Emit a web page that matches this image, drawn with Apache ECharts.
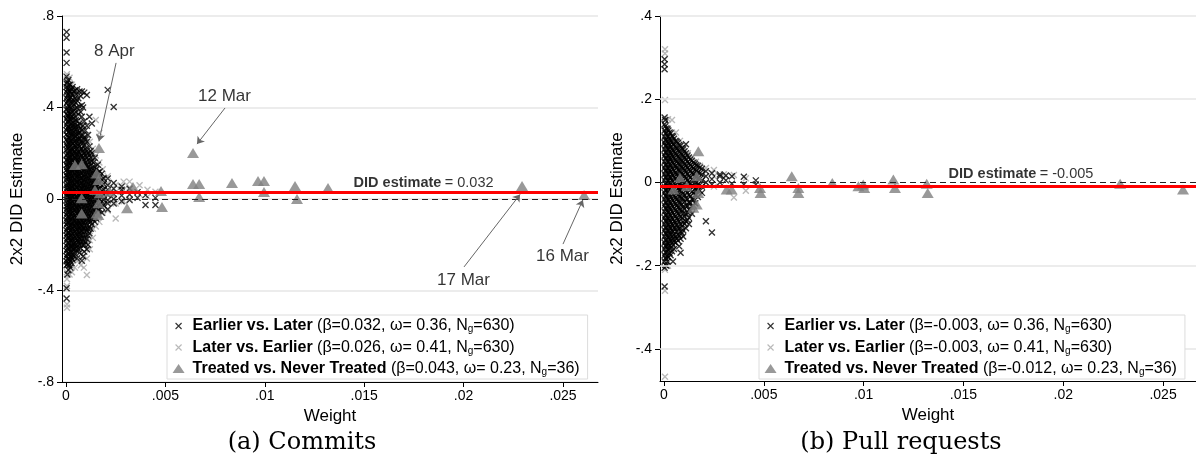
<!DOCTYPE html>
<html>
<head>
<meta charset="utf-8">
<script src="https://cdn.jsdelivr.net/npm/echarts@6.0.0/dist/echarts.min.js"></script>
<style>
  html, body { margin: 0; padding: 0; background: #fff; }
  #chart { width: 1196px; height: 456px; }
</style>
</head>
<body>
<div id="chart"></div>
<script>
// ---------- data ----------
// x-marks are kept as columns: [weight, [estimates...]]
var earlierCommits = [
  [0.00003, [0.73, 0.705, 0.64, 0.595, 0.535, 0.505, 0.49, 0.468, 0.44, 0.418, 0.39, 0.372, 0.35, 0.324, 0.30, 0.283, 0.26, 0.238, 0.215, 0.19, 0.172, 0.15, 0.128, 0.104, 0.085, 0.06, 0.042, 0.018, -0.004, -0.03, -0.048, -0.07, -0.095, -0.112, -0.138, -0.16, -0.182, -0.205, -0.226, -0.25, -0.272, -0.29, -0.39, -0.435]],
  [0.00007, [0.51, 0.478, 0.452, 0.425, 0.398, 0.366, 0.338, 0.31, 0.276, 0.252, 0.228, 0.198, 0.165, 0.142, 0.118, 0.095, 0.07, 0.05, 0.028, 0.008, -0.016, -0.038, -0.06, -0.083, -0.105, -0.128, -0.15, -0.172, -0.195, -0.218, -0.24, -0.262, -0.285, -0.33]],
  [0.00012, [0.52, 0.485, 0.46, 0.432, 0.41, 0.385, 0.362, 0.34, 0.315, 0.292, 0.27, 0.245, 0.222, 0.2, 0.178, 0.155, 0.132, 0.11, 0.088, 0.064, 0.04, 0.02, -0.006, -0.025, -0.05, -0.075, -0.098, -0.12, -0.145, -0.165, -0.19, -0.21, -0.235, -0.258, -0.28, -0.31]],
  [0.00017, [0.5, 0.472, 0.438, 0.405, 0.374, 0.35, 0.322, 0.296, 0.268, 0.24, 0.212, 0.19, 0.166, 0.142, 0.12, 0.098, 0.076, 0.052, 0.03, 0.01, -0.012, -0.035, -0.058, -0.08, -0.102, -0.125, -0.148, -0.17, -0.195, -0.218, -0.242, -0.265, -0.29]],
  [0.00022, [0.5, 0.47, 0.445, 0.4, 0.37, 0.345, 0.31, 0.288, 0.255, 0.23, 0.205, 0.18, 0.16, 0.135, 0.112, 0.09, 0.07, 0.045, 0.025, 0.002, -0.02, -0.045, -0.065, -0.09, -0.115, -0.138, -0.16, -0.18, -0.205, -0.228, -0.25, -0.27, -0.3]],
  [0.00028, [0.48, 0.46, 0.43, 0.39, 0.36, 0.33, 0.3, 0.275, 0.248, 0.22, 0.195, 0.172, 0.148, 0.125, 0.1, 0.08, 0.058, 0.035, 0.015, -0.008, -0.03, -0.052, -0.075, -0.1, -0.122, -0.145, -0.168, -0.19, -0.212, -0.235, -0.258, -0.28]],
  [0.00033, [0.49, 0.455, 0.42, 0.38, 0.35, 0.32, 0.29, 0.262, 0.24, 0.212, 0.19, 0.165, 0.14, 0.118, 0.095, 0.072, 0.05, 0.03, 0.008, -0.015, -0.038, -0.06, -0.085, -0.108, -0.13, -0.152, -0.175, -0.2, -0.22, -0.245, -0.265]],
  [0.0004, [0.47, 0.43, 0.41, 0.37, 0.335, 0.31, 0.28, 0.25, 0.225, 0.2, 0.175, 0.15, 0.128, 0.105, 0.082, 0.06, 0.038, 0.015, -0.005, -0.028, -0.05, -0.075, -0.098, -0.12, -0.145, -0.17, -0.195, -0.22, -0.25]],
  [0.00045, [0.475, 0.44, 0.395, 0.36, 0.325, 0.3, 0.27, 0.235, 0.21, 0.185, 0.16, 0.138, 0.115, 0.09, 0.068, 0.045, 0.022, 0.0, -0.022, -0.045, -0.07, -0.092, -0.115, -0.14, -0.165, -0.19, -0.215, -0.24]],
  [0.0005, [0.46, 0.42, 0.38, 0.345, 0.315, 0.285, 0.258, 0.228, 0.2, 0.178, 0.152, 0.128, 0.105, 0.082, 0.058, 0.036, 0.012, -0.01, -0.032, -0.055, -0.08, -0.102, -0.125, -0.148, -0.172, -0.198, -0.225]],
  [0.00056, [0.48, 0.43, 0.4, 0.34, 0.305, 0.28, 0.25, 0.22, 0.195, 0.17, 0.145, 0.12, 0.1, 0.075, 0.05, 0.028, 0.005, -0.018, -0.04, -0.065, -0.088, -0.11, -0.135, -0.158, -0.18, -0.21, -0.26]],
  [0.00062, [0.44, 0.37, 0.318, 0.29, 0.262, 0.235, 0.208, 0.182, 0.158, 0.132, 0.11, 0.088, 0.065, 0.042, 0.02, -0.002, -0.025, -0.048, -0.07, -0.095, -0.118, -0.142, -0.165, -0.19, -0.22]],
  [0.00068, [0.47, 0.405, 0.33, 0.29, 0.26, 0.23, 0.2, 0.172, 0.148, 0.125, 0.102, 0.08, 0.058, 0.035, 0.012, -0.01, -0.035, -0.058, -0.08, -0.105, -0.128, -0.15, -0.175, -0.2, -0.235]],
  [0.00074, [0.45, 0.38, 0.31, 0.275, 0.245, 0.215, 0.188, 0.16, 0.135, 0.112, 0.09, 0.068, 0.045, 0.024, 0.002, -0.02, -0.044, -0.068, -0.09, -0.114, -0.138, -0.16, -0.188, -0.215]],
  [0.0008, [0.47, 0.41, 0.36, 0.3, 0.255, 0.22, 0.19, 0.165, 0.14, 0.115, 0.092, 0.07, 0.045, 0.022, 0.0, -0.022, -0.045, -0.07, -0.095, -0.118, -0.14, -0.17, -0.2, -0.27]],
  [0.00086, [0.4, 0.32, 0.28, 0.245, 0.21, 0.182, 0.155, 0.13, 0.105, 0.082, 0.06, 0.036, 0.012, -0.01, -0.034, -0.056, -0.08, -0.104, -0.128, -0.155, -0.185, -0.25]],
  [0.00092, [0.465, 0.34, 0.27, 0.235, 0.2, 0.17, 0.145, 0.12, 0.095, 0.07, 0.048, 0.025, 0.002, -0.02, -0.045, -0.068, -0.092, -0.115, -0.14, -0.17, -0.2, -0.23]],
  [0.00098, [0.3, 0.26, 0.22, 0.19, 0.16, 0.135, 0.108, 0.085, 0.06, 0.038, 0.015, -0.008, -0.03, -0.055, -0.078, -0.1, -0.128, -0.158, -0.19]],
  [0.00105, [0.455, 0.32, 0.25, 0.21, 0.18, 0.15, 0.125, 0.1, 0.075, 0.05, 0.028, 0.005, -0.018, -0.04, -0.065, -0.09, -0.115, -0.14, -0.175, -0.22]],
  [0.00111, [0.28, 0.2, 0.17, 0.14, 0.115, 0.09, 0.066, 0.042, 0.018, -0.005, -0.028, -0.052, -0.078, -0.1, -0.13, -0.16, -0.2]],
  [0.00118, [0.36, 0.23, 0.19, 0.16, 0.13, 0.105, 0.08, 0.055, 0.03, 0.008, -0.015, -0.04, -0.065, -0.09, -0.12, -0.15]],
  [0.00124, [0.21, 0.18, 0.148, 0.12, 0.095, 0.07, 0.045, 0.02, -0.002, -0.025, -0.05, -0.075, -0.1, -0.13]],
  [0.0013, [0.33, 0.2, 0.165, 0.135, 0.11, 0.082, 0.058, 0.035, 0.01, -0.012, -0.035, -0.06, -0.085, -0.11]],
  [0.00138, [0.16, 0.125, 0.098, 0.072, 0.048, 0.025, 0.002, -0.02, -0.045, -0.068, -0.09]],
  [0.00145, [0.18, 0.14, 0.11, 0.085, 0.06, 0.038, 0.015, -0.008, -0.03, -0.055, -0.08, -0.1]],
  [0.00152, [0.13, 0.1, 0.075, 0.05, 0.028, 0.005, -0.018, -0.04, -0.062, -0.085]],
  [0.0016, [0.15, 0.115, 0.09, 0.062, 0.04, 0.018, -0.005, -0.028, -0.05, -0.07]],
  [0.0017, [0.12, 0.095, 0.07, 0.045, 0.022, 0.0, -0.022, -0.045]],
  [0.0018, [0.11, 0.085, 0.06, 0.035, 0.012, -0.01, -0.035, -0.06]],
  [0.0019, [0.09, 0.065, 0.04, 0.02, -0.005, -0.028]],
  [0.0021, [0.477, 0.09, 0.06, 0.04, 0.018, -0.005, -0.02, -0.045]],
  [0.0024, [0.402, 0.07, 0.045, 0.022, 0.0, -0.02]],
  [0.0028, [0.055, 0.04, 0.015, -0.01]],
  [0.0032, [0.045, 0.02, -0.005]],
  [0.0036, [0.03, 0.005]],
  [0.004, [0.017, -0.026]],
  [0.0045, [-0.026, 0.005]]
];
var laterCommits = [
  [0.00005, [0.545, 0.52, 0.5, 0.3, 0.1, -0.32, -0.35, -0.38, -0.46, -0.475]],
  [0.00018, [0.53, 0.48, 0.42, 0.36, 0.25, 0.12, -0.05, -0.28, -0.31, -0.33]],
  [0.0003, [0.5, 0.44, 0.4, 0.33, 0.28, 0.2, 0.05, -0.12, -0.25, -0.29, -0.32]],
  [0.00045, [0.45, 0.39, 0.35, 0.3, 0.25, 0.18, -0.2, -0.26, -0.3]],
  [0.0006, [0.38, 0.33, 0.28, 0.24, 0.2, 0.16, 0.11, -0.15, -0.22, -0.27]],
  [0.00075, [0.34, 0.3, 0.26, 0.22, 0.18, 0.14, 0.1, 0.06, -0.12, -0.18, -0.24, -0.29]],
  [0.0009, [0.3, 0.26, 0.22, 0.19, 0.15, 0.12, 0.08, 0.04, -0.1, -0.16, -0.2, -0.25, -0.3]],
  [0.00105, [0.28, 0.24, 0.2, 0.16, 0.13, 0.09, 0.05, 0.01, -0.03, -0.08, -0.13, -0.18, -0.22, -0.26, -0.332]],
  [0.0012, [0.25, 0.2, 0.17, 0.13, 0.1, 0.06, 0.02, -0.02, -0.06, -0.1, -0.14, -0.18, -0.22]],
  [0.00135, [0.22, 0.18, 0.14, 0.11, 0.07, 0.03, -0.01, -0.05, -0.09, -0.13, -0.17]],
  [0.0015, [0.345, 0.19, 0.15, 0.12, 0.08, 0.04, 0.0, -0.04, -0.08, -0.12]],
  [0.00168, [0.29, 0.16, 0.12, 0.09, 0.05, 0.01, -0.03, -0.07, -0.1]],
  [0.00185, [0.13, 0.09, 0.06, 0.02, -0.02, -0.06]],
  [0.0021, [0.1, 0.07, 0.03, -0.01, -0.05]],
  [0.0025, [0.06, 0.03, -0.02, -0.085]],
  [0.0029, [0.076, 0.04, -0.01]],
  [0.0032, [0.076, 0.05, 0.0]],
  [0.0037, [0.06, 0.02]],
  [0.0041, [0.04, 0.01]],
  [0.0045, [0.032]]
];
var treatedCommits = [
  [0.00166, 0.223], [0.00639, 0.201], [0.00639, 0.066], [0.0067, 0.066], [0.0067, 0.009],
  [0.00835, 0.07], [0.00966, 0.079], [0.00996, 0.079], [0.00996, 0.031], [0.01152, 0.057],
  [0.01162, 0.0], [0.01318, 0.048], [0.02294, 0.057], [0.02606, 0.017], [0.00337, 0.052],
  [0.00478, 0.035], [0.00483, -0.035], [0.00307, -0.04], [0.00045, 0.149], [0.00079, 0.152],
  [0.00154, 0.112], [0.00163, 0.083], [0.00146, 0.039], [0.00079, 0.003], [0.00163, -0.019],
  [0.00079, -0.063], [0.00163, -0.07], [0.0017, 0.025], [0.0022, 0.032], [0.00154, -0.063]
];

var earlierPulls = [
  [0.00003, [0.296, 0.284, 0.272, 0.156, 0.14, 0.125, 0.11, 0.095, 0.08, 0.065, 0.05, 0.035, 0.02, 0.005, -0.01, -0.025, -0.04, -0.055, -0.07, -0.085, -0.1, -0.115, -0.13, -0.145, -0.16, -0.175, -0.19, -0.205, -0.25, -0.478]],
  [0.00007, [0.15, 0.135, 0.118, 0.102, 0.088, 0.072, 0.058, 0.042, 0.028, 0.012, -0.003, -0.018, -0.032, -0.048, -0.062, -0.078, -0.092, -0.108, -0.122, -0.138, -0.152, -0.168, -0.182, -0.198]],
  [0.00012, [0.13, 0.118, 0.103, 0.088, 0.072, 0.058, 0.043, 0.028, 0.013, -0.002, -0.018, -0.033, -0.048, -0.063, -0.078, -0.093, -0.108, -0.123, -0.138, -0.153, -0.168, -0.183, -0.2]],
  [0.00017, [0.128, 0.112, 0.098, 0.082, 0.066, 0.052, 0.036, 0.022, 0.006, -0.008, -0.024, -0.038, -0.054, -0.068, -0.084, -0.098, -0.114, -0.128, -0.144, -0.16, -0.176, -0.19]],
  [0.00022, [0.125, 0.11, 0.095, 0.08, 0.064, 0.05, 0.034, 0.02, 0.004, -0.012, -0.027, -0.042, -0.057, -0.072, -0.087, -0.102, -0.117, -0.132, -0.147, -0.162, -0.18]],
  [0.00028, [0.12, 0.105, 0.09, 0.075, 0.06, 0.044, 0.03, 0.014, 0.0, -0.016, -0.03, -0.046, -0.06, -0.076, -0.09, -0.106, -0.12, -0.136, -0.152, -0.17]],
  [0.00033, [0.118, 0.1, 0.085, 0.07, 0.055, 0.04, 0.025, 0.01, -0.005, -0.02, -0.035, -0.05, -0.065, -0.08, -0.095, -0.11, -0.125, -0.14, -0.158, -0.175]],
  [0.0004, [0.112, 0.096, 0.08, 0.066, 0.05, 0.035, 0.02, 0.005, -0.01, -0.025, -0.04, -0.055, -0.07, -0.085, -0.1, -0.115, -0.13, -0.145, -0.165]],
  [0.00045, [0.11, 0.092, 0.077, 0.062, 0.047, 0.032, 0.017, 0.002, -0.013, -0.028, -0.043, -0.058, -0.073, -0.088, -0.103, -0.118, -0.135, -0.15, -0.19]],
  [0.0005, [0.105, 0.09, 0.074, 0.058, 0.044, 0.028, 0.013, -0.002, -0.017, -0.032, -0.047, -0.062, -0.078, -0.094, -0.11, -0.126, -0.142, -0.16]],
  [0.00058, [0.1, 0.085, 0.07, 0.054, 0.04, 0.024, 0.01, -0.006, -0.021, -0.036, -0.051, -0.066, -0.081, -0.096, -0.112, -0.13, -0.145]],
  [0.00064, [0.098, 0.082, 0.066, 0.05, 0.035, 0.02, 0.005, -0.01, -0.026, -0.041, -0.056, -0.07, -0.086, -0.102, -0.118, -0.135]],
  [0.0007, [0.095, 0.078, 0.062, 0.046, 0.03, 0.015, 0.0, -0.015, -0.03, -0.045, -0.06, -0.075, -0.09, -0.108, -0.125, -0.14]],
  [0.00076, [0.09, 0.074, 0.058, 0.043, 0.028, 0.012, -0.003, -0.018, -0.033, -0.048, -0.063, -0.078, -0.094, -0.11, -0.128, -0.153]],
  [0.00083, [0.088, 0.07, 0.055, 0.04, 0.025, 0.01, -0.005, -0.02, -0.035, -0.05, -0.065, -0.082, -0.1, -0.118, -0.135, -0.169]],
  [0.0009, [0.083, 0.068, 0.052, 0.037, 0.022, 0.008, -0.008, -0.022, -0.038, -0.052, -0.068, -0.085, -0.105, -0.122]],
  [0.00096, [0.08, 0.065, 0.05, 0.035, 0.02, 0.005, -0.01, -0.025, -0.04, -0.058, -0.075, -0.095, -0.115, -0.13]],
  [0.00103, [0.075, 0.06, 0.045, 0.03, 0.015, 0.0, -0.015, -0.03, -0.046, -0.064, -0.082, -0.1]],
  [0.0011, [0.092, 0.07, 0.055, 0.04, 0.025, 0.01, -0.005, -0.02, -0.038, -0.055, -0.075, -0.093, -0.11]],
  [0.00118, [0.065, 0.05, 0.035, 0.02, 0.005, -0.01, -0.025, -0.04, -0.056, -0.072, -0.09]],
  [0.00125, [0.06, 0.045, 0.03, 0.015, 0.0, -0.015, -0.03, -0.048, -0.065, -0.085, -0.1]],
  [0.00132, [0.055, 0.042, 0.028, 0.012, -0.002, -0.018, -0.034, -0.05, -0.068]],
  [0.0014, [0.052, 0.038, 0.023, 0.008, -0.007, -0.022, -0.04, -0.058, -0.075]],
  [0.00148, [0.048, 0.034, 0.02, 0.005, -0.01, -0.025, -0.04, -0.056]],
  [0.00155, [0.045, 0.03, 0.015, 0.0, -0.015, -0.03, -0.05]],
  [0.00162, [0.042, 0.028, 0.014, 0.0, -0.014, -0.03]],
  [0.0017, [0.04, 0.025, 0.01, -0.005, -0.02, -0.035]],
  [0.0018, [0.036, 0.022, 0.008, -0.006, -0.02]],
  [0.0019, [0.033, 0.02, 0.005, -0.01, -0.025]],
  [0.0021, [0.027, 0.015, 0.0, -0.093]],
  [0.0024, [0.022, 0.008, -0.005, -0.12]],
  [0.0028, [0.019, 0.015, 0.0]],
  [0.0031, [0.017, 0.005]],
  [0.0034, [0.015, -0.003]],
  [0.004, [0.014, -0.005]],
  [0.0046, [0.005, -0.005]]
];
var laterPulls = [
  [0.00005, [0.32, 0.31, 0.198, 0.15, 0.1, -0.21, -0.26, -0.467]],
  [0.0002, [0.152, 0.13, 0.11, 0.08, -0.15, -0.18, -0.2]],
  [0.0004, [0.15, 0.12, 0.1, 0.06, -0.12, -0.16]],
  [0.0006, [0.12, 0.1, 0.07, 0.04, -0.1, -0.13]],
  [0.0008, [0.1, 0.08, 0.05, -0.08, -0.11]],
  [0.001, [0.085, 0.06, 0.035, -0.06, -0.09]],
  [0.0012, [0.07, 0.04, 0.02, -0.05, -0.08]],
  [0.0014, [0.06, 0.03, 0.0, -0.04, -0.06]],
  [0.0016, [0.05, 0.02, -0.02, -0.05]],
  [0.0018, [0.04, 0.01, -0.03]],
  [0.0021, [0.035, 0.0]],
  [0.0025, [0.03, 0.015, -0.01]],
  [0.003, [0.02, 0.01]],
  [0.0035, [0.018, -0.036]],
  [0.0041, [0.01, -0.02]]
];
var treatedPulls = [
  [0.00172, 0.075], [0.0008, 0.011], [0.00164, 0.015], [0.00047, -0.017], [0.00114, -0.009],
  [0.00172, -0.025], [0.00147, -0.061], [0.00164, -0.053], [0.00314, -0.017], [0.00339, -0.017],
  [0.00481, -0.013], [0.00484, -0.025], [0.0064, 0.015], [0.00673, -0.013], [0.00673, -0.025],
  [0.00843, -0.001], [0.00974, -0.009], [0.00998, -0.005], [0.01003, -0.013], [0.01149, 0.007],
  [0.01157, -0.013], [0.01316, -0.003], [0.01321, -0.025], [0.02285, -0.003], [0.026, -0.017]
];

var didCommits = 0.032;
var didPulls = -0.005;
var seriesNames = ['Earlier vs. Later', 'Later vs. Earlier', 'Treated vs. Never Treated'];
// beta, omega, N_g per series
var statsCommits = [['0.032', '0.36', '630'], ['0.026', '0.41', '630'], ['0.043', '0.23', '36']];
var statsPulls = [['-0.003', '0.36', '630'], ['-0.003', '0.41', '630'], ['-0.012', '0.23', '36']];
var xTicks = [0, 0.005, 0.01, 0.015, 0.02, 0.025];
var yTicksPulls = [-0.4, -0.2, 0, 0.2, 0.4];

// annotations on panel (a): label, label point, arrow start, arrow end
var notesCommits = [
  ['8 Apr', [0.00246, 0.643], [0.00252, 0.595], [0.00166, 0.252]],
  ['12 Mar', [0.0080, 0.446], [0.0080, 0.398], [0.00659, 0.240]],
  ['17 Mar', [0.02002, -0.358], [0.02002, -0.297], [0.02284, 0.020]],
  ['16 Mar', [0.0250, -0.254], [0.0250, -0.197], [0.0260, -0.004]]
];
// ---------------------------------------------

var FONT = 'Liberation Sans';
var crossPath = 'path://M0,0L10,10M10,0L0,10';

function flatten(cols) {
  var out = [];
  cols.forEach(function (c) {
    c[1].forEach(function (y) { out.push([c[0], y]); });
  });
  return out;
}

function tickFmt(v) {
  if (Math.abs(v) < 1e-12) return '0';
  return String(+v.toFixed(3)).replace('0.', '.');
}

function xAxisFor(idx, max) {
  return {
    type: 'value', gridIndex: idx, min: -0.0002, max: max,
    name: 'Weight', nameLocation: 'middle', nameGap: 22,
    nameTextStyle: { fontFamily: FONT, fontSize: 17, color: '#000' },
    axisLine: { show: true, onZero: false, lineStyle: { color: '#000', width: 1 } },
    axisTick: { show: true, length: 5, customValues: xTicks, lineStyle: { color: '#000' } },
    axisLabel: { customValues: xTicks, formatter: tickFmt, margin: 7, fontFamily: FONT, fontSize: 14, color: '#000' },
    splitLine: { show: false }
  };
}

function yAxisBase(idx) {
  return {
    type: 'value', gridIndex: idx,
    name: '2x2 DID Estimate', nameLocation: 'middle', nameGap: 36,
    nameTextStyle: { fontFamily: FONT, fontSize: 17, color: '#000' },
    axisLine: { show: true, onZero: false, lineStyle: { color: '#000', width: 1 } },
    axisTick: { show: true, length: 5, lineStyle: { color: '#000' } },
    axisLabel: { formatter: tickFmt, margin: 8, fontFamily: FONT, fontSize: 14, color: '#000' }
  };
}

var yA = yAxisBase(0);
yA.min = -0.8; yA.max = 0.8; yA.interval = 0.4;
yA.splitLine = { show: true, lineStyle: { color: '#e6e6e6', width: 1.5 } };

var yB = yAxisBase(1);
yB.min = -0.477; yB.max = 0.4;
yB.axisTick.customValues = yTicksPulls;
yB.axisLabel.customValues = yTicksPulls;
yB.splitLine = { show: false };
yB.nameGap = 34;

function refSeries(idx, did, grids) {
  var lines = [];
  grids.forEach(function (g) {
    lines.push({ yAxis: g, lineStyle: { color: '#e6e6e6', width: 1.5, type: 'solid' } });
  });
  lines.push({ yAxis: 0, lineStyle: { color: '#222', width: 1, type: [6, 4] } });
  lines.push({ yAxis: did, lineStyle: { color: '#ff0000', width: 3, type: 'solid' } });
  return {
    type: 'line', xAxisIndex: idx, yAxisIndex: idx, data: [], z: 1, silent: true,
    markLine: { symbol: 'none', silent: true, animation: false, label: { show: false }, data: lines }
  };
}

function crossSeries(idx, name, cols, color, z) {
  return {
    type: 'scatter', name: name, xAxisIndex: idx, yAxisIndex: idx, z: z,
    symbol: crossPath, symbolSize: 6,
    itemStyle: { color: 'transparent', borderColor: color, borderWidth: 1.35 },
    data: flatten(cols), silent: true, animation: false
  };
}

function triSeries(idx, data, arrows) {
  var s = {
    type: 'scatter', name: seriesNames[2], xAxisIndex: idx, yAxisIndex: idx, z: 4,
    symbol: 'triangle', symbolSize: [12, 10],
    itemStyle: { color: '#808080' },
    data: data, silent: true, animation: false
  };
  if (arrows) {
    s.markLine = {
      silent: true, animation: false, label: { show: false },
      lineStyle: { color: '#666', width: 1, type: 'solid' },
      data: arrows.map(function (n) {
        return [{ coord: n[2], symbol: 'none' }, { coord: n[3], symbol: 'arrow', symbolSize: 7 }];
      })
    };
  }
  return s;
}

function textSeries(idx, items) {
  return {
    type: 'scatter', xAxisIndex: idx, yAxisIndex: idx, z: 6, silent: true, animation: false,
    symbolSize: 1, itemStyle: { color: 'transparent' },
    data: items,
    label: {
      show: true, position: [0, 0], align: 'center', verticalAlign: 'middle',
      fontFamily: FONT, fontSize: 17, color: '#000',
      formatter: function (p) { return p.data.name; }
    }
  };
}

function didSeries(idx, pos, did) {
  return {
    type: 'scatter', xAxisIndex: idx, yAxisIndex: idx, z: 6, silent: true, animation: false,
    symbolSize: 1, itemStyle: { color: 'transparent' },
    data: [pos],
    label: {
      show: true, position: 'right', distance: 0,
      formatter: '{b|DID estimate} {n|= ' + did.toFixed(3) + '}',
      rich: {
        b: { fontFamily: FONT, fontSize: 14.5, fontWeight: 'bold', color: '#000' },
        n: { fontFamily: FONT, fontSize: 14.5, color: '#000' }
      }
    }
  };
}

function legendFor(left, stats) {
  return {
    left: left, top: 315, orient: 'vertical', selectedMode: false, z: 20,
    backgroundColor: '#fff', borderColor: '#dcdcdc', borderWidth: 1, borderRadius: 0,
    padding: [2, 8, 1, 2], itemGap: 3.5, itemWidth: 18, itemHeight: 12,
    data: [
      { name: seriesNames[0], icon: 'path://M-9,-6M9,6M-3,-3L3,3M3,-3L-3,3',
        itemStyle: { color: 'transparent', borderColor: '#000', borderWidth: 1.15 } },
      { name: seriesNames[1], icon: 'path://M-9,-6M9,6M-3,-3L3,3M3,-3L-3,3',
        itemStyle: { color: 'transparent', borderColor: '#a8a8a8', borderWidth: 1.15 } },
      { name: seriesNames[2], icon: 'path://M-9,-6M9,6M-6,4L0,-5L6,4Z',
        itemStyle: { color: '#808080', borderWidth: 0 } }
    ],
    formatter: function (name) {
      var s = stats[seriesNames.indexOf(name)];
      return '{b|' + name + '} {n|(\u03b2=' + s[0] + ', \u03c9= ' + s[1] + ', N}{s|g}{n|=' + s[2] + ')}';
    },
    textStyle: {
      fontFamily: FONT, fontSize: 16, color: '#000', lineHeight: 18,
      rich: {
        b: { fontFamily: FONT, fontSize: 16, fontWeight: 'bold', color: '#000', lineHeight: 18 },
        n: { fontFamily: FONT, fontSize: 16, color: '#000', lineHeight: 18 },
        s: { fontFamily: FONT, fontSize: 10, color: '#000', lineHeight: 10, padding: [7, 0, 0, 0] }
      }
    }
  };
}

var chart = echarts.init(document.getElementById('chart'), null, { renderer: 'canvas' });

chart.setOption({
  backgroundColor: '#fff',
  animation: false,
  title: [
    { text: '(a) Commits', left: 302, top: 431, textAlign: 'center', padding: 0,
      textStyle: { fontFamily: 'DejaVu Serif', fontSize: 24, fontWeight: 'normal', color: '#000' } },
    { text: '(b) Pull requests', left: 901, top: 431, textAlign: 'center', padding: 0,
      textStyle: { fontFamily: 'DejaVu Serif', fontSize: 24, fontWeight: 'normal', color: '#000' } }
  ],
  grid: [
    { left: 62, top: 16, width: 536, height: 366 },
    { left: 660, top: 16, width: 536, height: 365 }
  ],
  xAxis: [xAxisFor(0, 0.02676), xAxisFor(1, 0.02665)],
  yAxis: [yA, yB],
  legend: [legendFor(167, statsCommits), legendFor(759, statsPulls)],
  series: [
    refSeries(0, didCommits, []),
    crossSeries(0, seriesNames[1], laterCommits, '#a8a8a8', 2),
    crossSeries(0, seriesNames[0], earlierCommits, '#000', 3),
    triSeries(0, treatedCommits, notesCommits),
    textSeries(0, notesCommits.map(function (n) { return { name: n[0], value: n[1] }; })),
    didSeries(0, [0.01444, 0.07], didCommits),

    refSeries(1, didPulls, [-0.4, -0.2, 0.2, 0.4]),
    crossSeries(1, seriesNames[1], laterPulls, '#a8a8a8', 2),
    crossSeries(1, seriesNames[0], earlierPulls, '#000', 3),
    triSeries(1, treatedPulls, null),
    didSeries(1, [0.01423, 0.0193], didPulls)
  ]
});
</script>
</body>
</html>
